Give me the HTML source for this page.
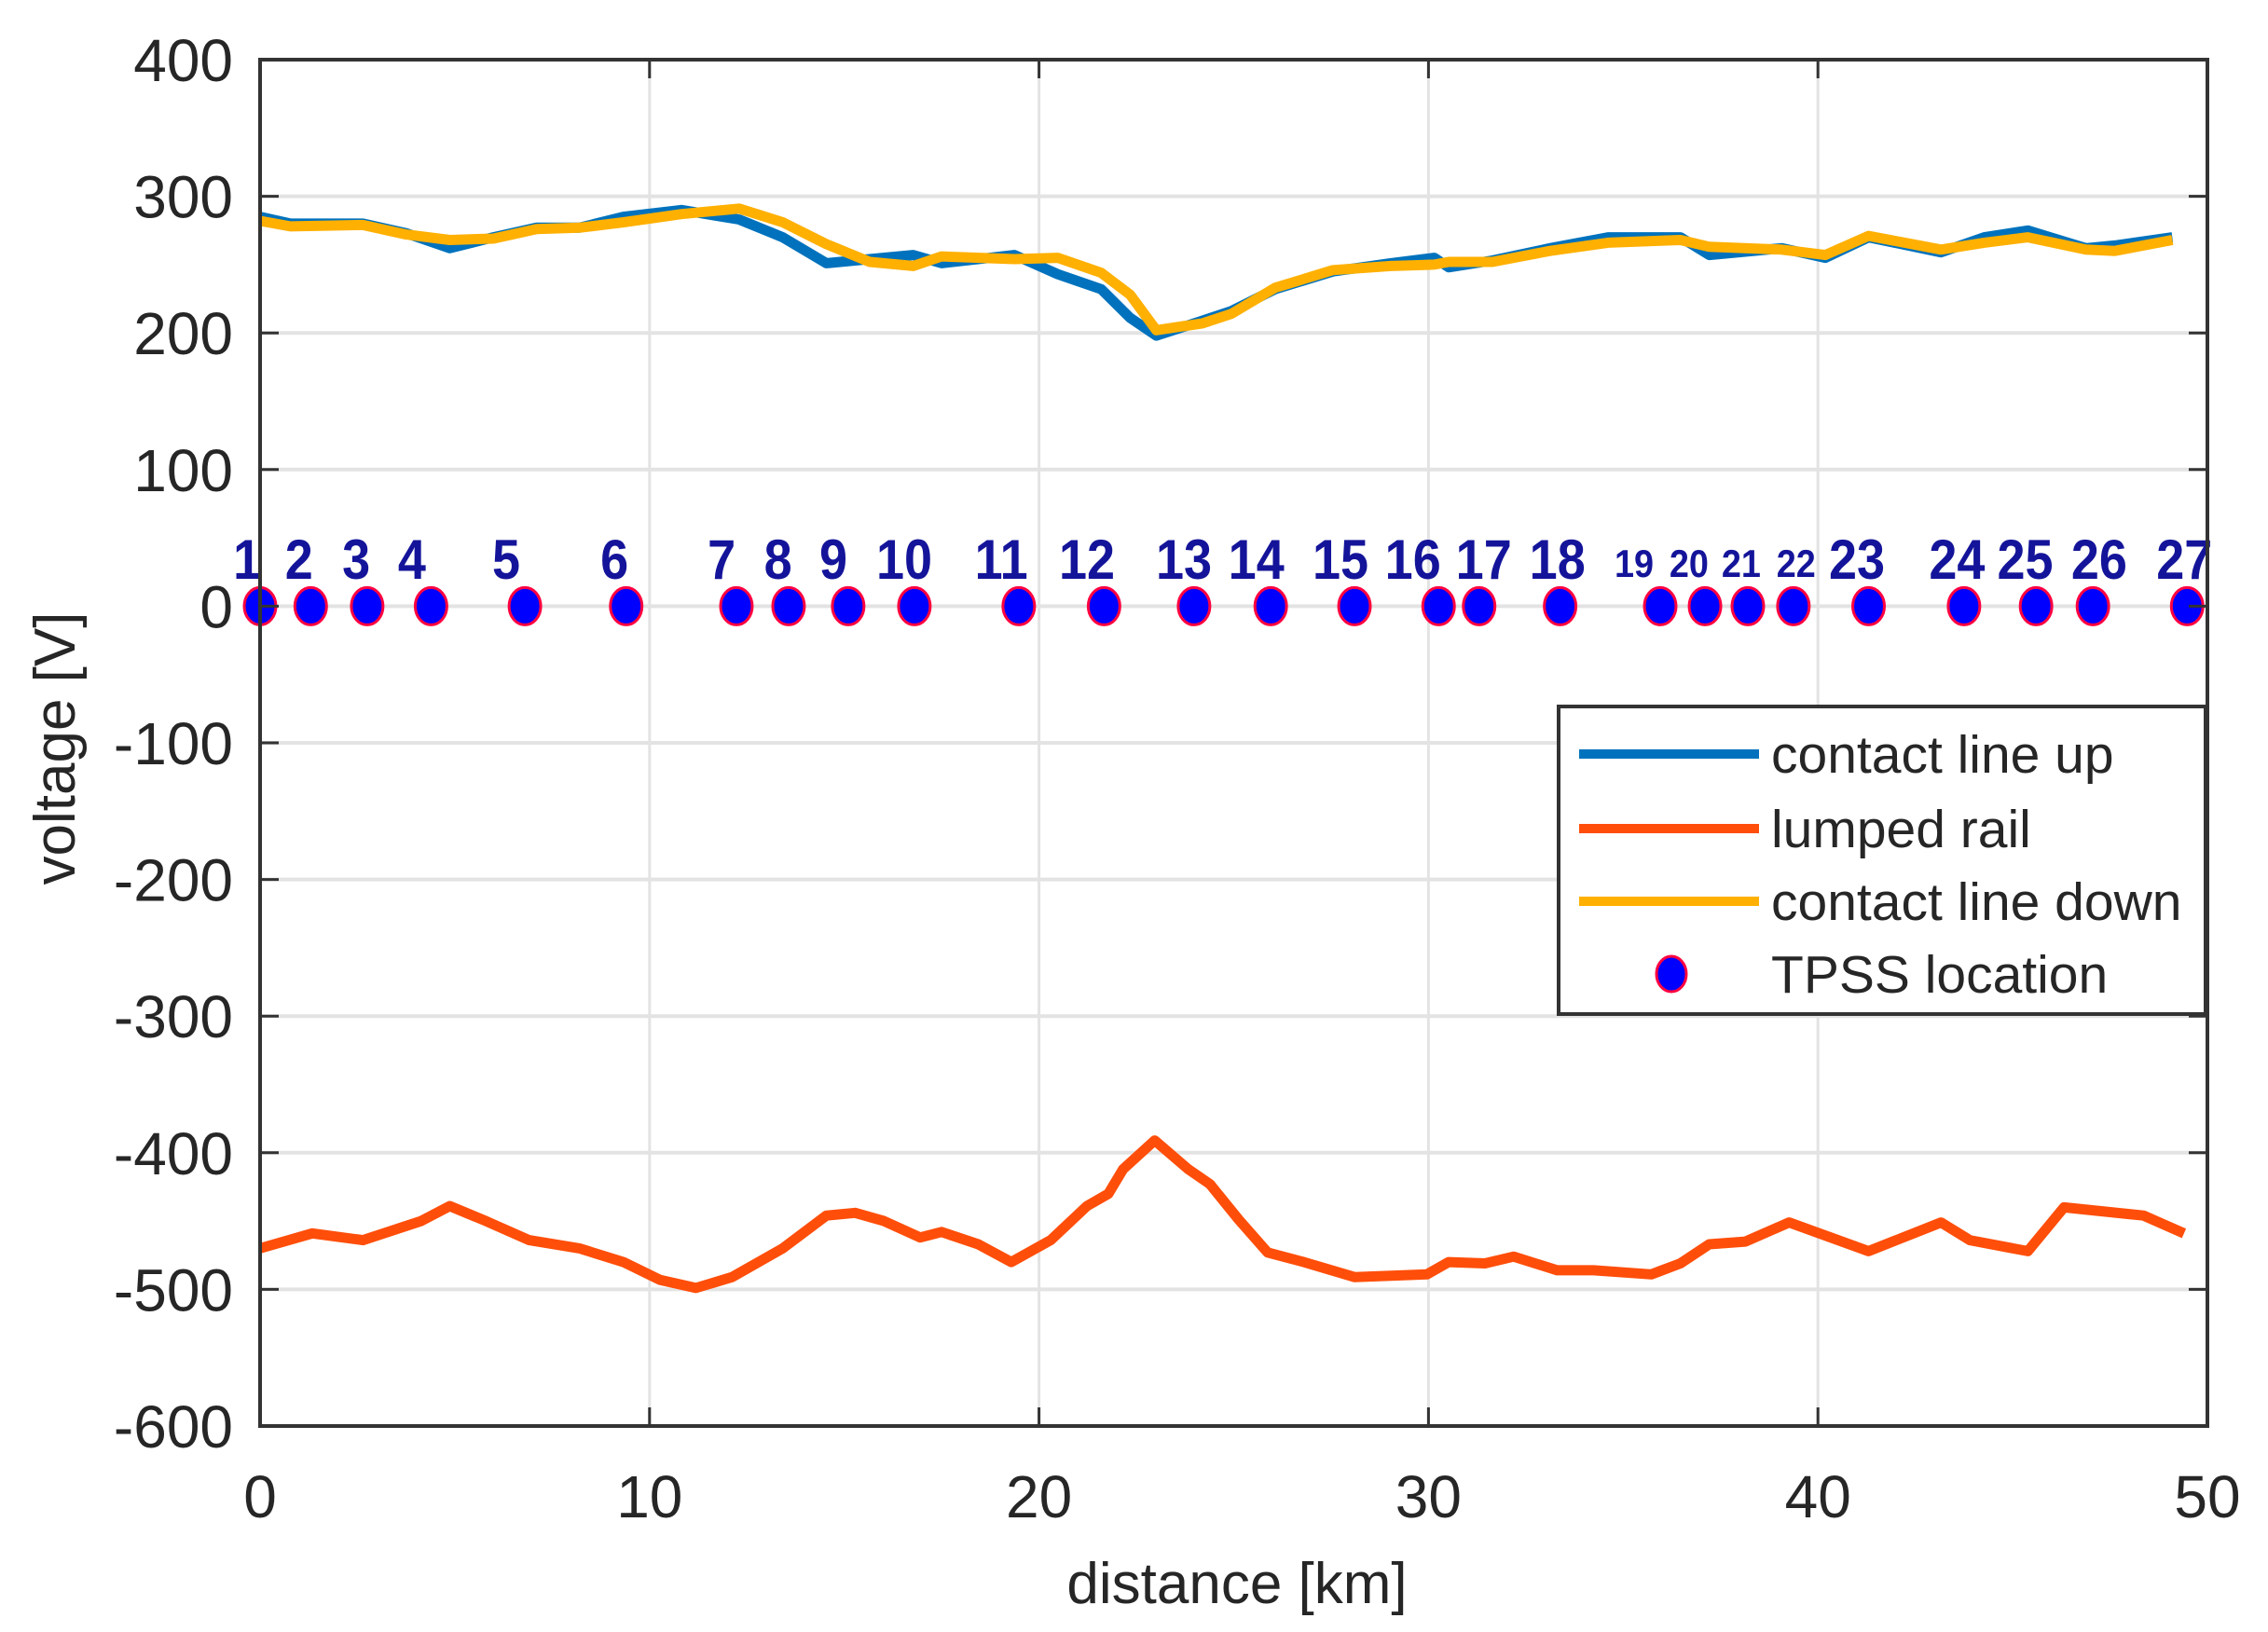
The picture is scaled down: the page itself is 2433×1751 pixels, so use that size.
<!DOCTYPE html>
<html><head><meta charset="utf-8"><style>
html,body{margin:0;padding:0;background:#fff;}
svg{display:block;font-family:"Liberation Sans",Arial,sans-serif;}
</style></head><body>
<svg id="chart" width="2433" height="1751" viewBox="0 0 2433 1751">
<g id="grid"></g>
<g id="series"></g>
<g id="axes"></g>
<text x="1327" y="1720" text-anchor="middle" font-size="62" fill="#262626">distance [km]</text>
<text transform="translate(80,803) rotate(-90)" text-anchor="middle" font-size="62" fill="#262626">voltage [V]</text>
<g>
<rect x="1672" y="758" width="694" height="330" fill="#fff" stroke="#333" stroke-width="4"/>
<line x1="1694" y1="809" x2="1887" y2="809" stroke="#0072BD" stroke-width="10"/>
<text x="1900" y="829" font-size="57" fill="#262626">contact line up</text>
<line x1="1694" y1="889" x2="1887" y2="889" stroke="#FF4E0A" stroke-width="10"/>
<text x="1900" y="909" font-size="57" fill="#262626">lumped rail</text>
<line x1="1694" y1="967" x2="1887" y2="967" stroke="#FFB000" stroke-width="10"/>
<text x="1900" y="987" font-size="57" fill="#262626">contact line down</text>
<ellipse cx="1793" cy="1045" rx="16" ry="19" fill="#0000FF" stroke="#FF0040" stroke-width="3"/>
<text x="1900" y="1065" font-size="57" fill="#262626">TPSS location</text>
</g>
</svg>
<script>
const xTicks=[0,10,20,30,40,50];
const yTicks=[400,300,200,100,0,-100,-200,-300,-400,-500,-600];
const upKm=[0,0.78,2.64,3.75,4.87,5.99,7.1,8.2,9.33,10.82,12.3,13.42,14.54,15.65,16.77,17.5,19.37,20.48,21.6,22.34,23.01,24.2,24.94,26.06,27.55,29.03,30.15,30.52,31.64,33.12,34.61,36.47,37.21,39.07,40.19,41.3,43.16,44.27,45.39,46.88,47.62,49.1];
const upV=[285,280,280,273,262,270,277,277,285,290,283,270,251,254,257,251,257,243,232,211,198,209,216,232,245,251,255,248,253,262,270,270,257,262,255,270,259,270,275,262,264,270];
const downV=[282,278,279,272,268,269,276,277,281,287,291,281,265,252,249,256,254,255,244,228,202,207,214,233,246,249,250,252,252,260,266,268,263,261,257,271,261,266,270,261,260,268];
const railKm=[0,1.34,2.64,4.13,4.87,5.8,6.91,8.2,9.33,10.26,11.19,12.12,13.42,14.54,15.28,16.02,16.95,17.5,18.44,19.29,20.3,21.23,21.78,22.16,22.97,23.83,24.39,25.13,25.87,26.8,28.1,29.96,30.52,31.45,32.19,33.3,34.24,35.72,36.47,37.21,38.14,39.26,41.3,43.16,43.9,45.39,46.32,48.36,49.4];
const railV=[-470,-459,-464,-450,-439,-450,-464,-470,-480,-493,-499,-491,-470,-446,-444,-450,-462,-458,-467,-480,-464,-439,-430,-412,-391,-412,-423,-449,-473,-480,-491,-489,-480,-481,-476,-486,-486,-489,-481,-467,-465,-451,-472,-451,-464,-472,-440,-446,-459];
const tpssKm=[0,1.3,2.75,4.39,6.8,9.4,12.23,13.57,15.1,16.8,19.48,21.67,23.98,25.95,28.1,30.26,31.3,33.38,35.95,37.1,38.2,39.37,41.3,43.75,45.6,47.06,49.48];
const tpssLabelKm=[-0.33,1.0,2.47,3.9,6.32,9.1,11.85,13.3,14.72,16.54,19.03,21.23,23.72,25.58,27.74,29.6,31.42,33.31,35.28,36.69,38.03,39.44,41.0,43.57,45.32,47.22,49.41];
const tpssLabels=["1","2","3","4","5","6","7","8","9","10","11","12","13","14","15","16","17","18","19","20","21","22","23","24","25","26","27"];

const L=279,R=2368,T=64,B=1530;
const X=v=>L+(v-0)/(50-0)*(R-L);
const Y=v=>T+(400-v)/(400-(-600))*(B-T);
const NS="http://www.w3.org/2000/svg";
function mk(tag,attrs,parent){const e=document.createElementNS(NS,tag);for(const k in attrs)e.setAttribute(k,attrs[k]);parent.appendChild(e);return e;}
const grid=document.getElementById('grid'),axes=document.getElementById('axes'),series=document.getElementById('series');
xTicks.forEach(t=>{
  const g=mk('line',{x1:X(t),y1:T,x2:X(t),y2:B,stroke:'#e3e3e3','stroke-width':3},grid);
  
  
  const tk=mk('line',{x1:X(t),y1:B,x2:X(t),y2:B-20,stroke:'#333','stroke-width':3},axes);
  
  
  const tk2=mk('line',{x1:X(t),y1:T,x2:X(t),y2:T+20,stroke:'#333','stroke-width':3},axes);
  
  
  const lb=mk('text',{x:X(t),y:1628,'text-anchor':'middle','font-size':64,fill:'#262626'},axes);
  lb.textContent=t;
  
  
});
yTicks.forEach(t=>{
  const g=mk('line',{x1:L,y1:Y(t),x2:R,y2:Y(t),stroke:'#e3e3e3','stroke-width':4},grid);
  
  
  const tk=mk('line',{x1:L,y1:Y(t),x2:L+20,y2:Y(t),stroke:'#333','stroke-width':3},axes);
  
  
  const tk2=mk('line',{x1:R,y1:Y(t),x2:R-20,y2:Y(t),stroke:'#333','stroke-width':3},axes);
  
  
  const lb=mk('text',{x:250,y:Y(t)+23,'text-anchor':'end','font-size':64,fill:'#262626'},axes);
  lb.textContent=t;
  
  
});
const box=mk('rect',{x:L,y:T,width:R-L,height:B-T,fill:'none',stroke:'#333','stroke-width':4},axes);


function pts(xs,ys){return xs.map((x,i)=>X(x).toFixed(1)+','+Y(ys[i]).toFixed(1)).join(' ');}
const pu=mk('polyline',{points:pts(upKm,upV),fill:'none',stroke:'#0072BD','stroke-width':11,'stroke-linejoin':'round'},series);


const pr=mk('polyline',{points:pts(railKm,railV),fill:'none',stroke:'#FF4E0A','stroke-width':11,'stroke-linejoin':'round'},series);


const pd=mk('polyline',{points:pts(upKm,downV),fill:'none',stroke:'#FFB000','stroke-width':11,'stroke-linejoin':'round'},series);


tpssKm.forEach((k,i)=>{
  const d=mk('ellipse',{cx:X(k),cy:Y(0),rx:17,ry:20,fill:'#0000FF',stroke:'#FF0040','stroke-width':3},series);
  
  
  const small=(i>=18&&i<=21);
  const lb=mk('text',{transform:'translate('+X(tpssLabelKm[i]).toFixed(1)+','+(small?619:621)+') scale(0.9,1)','text-anchor':'middle','font-size':small?42:60,'font-weight':'bold',fill:'#14149a'},series);
  lb.textContent=tpssLabels[i];
  
  
});
</script>
</body></html>
